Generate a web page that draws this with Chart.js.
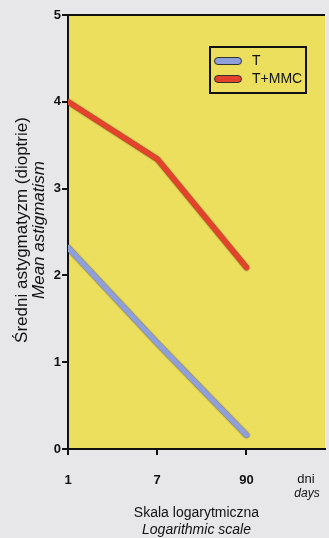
<!DOCTYPE html>
<html><head><meta charset="utf-8">
<script src="https://cdn.jsdelivr.net/npm/chart.js@4/dist/chart.umd.min.js"></script>
<style>html,body{margin:0;padding:0;background:#e7e7ea;}#c{display:block;}</style>
</head><body>
<canvas id="c" width="329" height="538"></canvas>
<script>
const categories = ['1', '7', '90'];
const seriesNames = ['T', 'T+MMC'];
const valuesT = [2.32, 1.22, 0.16];
const valuesTMMC = [4.0, 3.34, 2.09];
const yTicks = [0, 1, 2, 3, 4, 5];

const FONT = '"Liberation Sans", Arial, sans-serif';
const colors = ['#8e9fdc', '#e3432b'];

const decor = {
  id: 'decor',
  beforeDraw(chart) {
    const {ctx, chartArea: a} = chart;
    ctx.save();
    ctx.fillStyle = '#ebdf5d';
    ctx.fillRect(a.left, a.top, a.right - a.left, a.bottom - a.top);
    ctx.restore();
  },
  beforeDatasetDraw(chart) {
    chart.ctx.save();
    chart.ctx.shadowColor = 'rgba(40,20,20,0.85)';
    chart.ctx.shadowBlur = 1.5;
  },
  afterDatasetDraw(chart) { chart.ctx.restore(); },
  afterDraw(chart) {
    const {ctx, chartArea: a} = chart;
    ctx.save();
    ctx.strokeStyle = '#111';
    ctx.lineWidth = 2;
    ctx.beginPath(); ctx.moveTo(a.left, a.top); ctx.lineTo(a.right, a.top); ctx.stroke();
    const bx = 210, by = 47, bw = 96, bh = 46;
    ctx.lineWidth = 2;
    ctx.strokeRect(bx, by, bw, bh);
    seriesNames.forEach((n, i) => {
      const y = 61 + i * 18;
      ctx.fillStyle = colors[i];
      ctx.strokeStyle = '#333';
      ctx.lineWidth = 1;
      ctx.beginPath();
      ctx.moveTo(218, y - 3.5); ctx.lineTo(238, y - 3.5);
      ctx.arc(238, y, 3.5, -Math.PI / 2, Math.PI / 2);
      ctx.lineTo(218, y + 3.5);
      ctx.arc(218, y, 3.5, Math.PI / 2, Math.PI * 1.5);
      ctx.closePath(); ctx.fill(); ctx.stroke();
      ctx.fillStyle = '#111';
      ctx.font = '14px ' + FONT;
      ctx.textBaseline = 'middle'; ctx.textAlign = 'left';
      ctx.fillText(n, 252, y);
    });
    ctx.fillStyle = '#111';
    ctx.textAlign = 'center'; ctx.textBaseline = 'middle';
    ctx.font = '13px ' + FONT;
    ctx.fillText('dni', 306, 479);
    ctx.font = 'italic 12px ' + FONT;
    ctx.fillText('days', 307, 494);
    const cx = (a.left + a.right) / 2;
    ctx.font = '14px ' + FONT;
    ctx.fillText('Skala logarytmiczna', cx, 513);
    ctx.font = 'italic 14px ' + FONT;
    ctx.fillText('Logarithmic scale', cx, 530);
    ctx.translate(0, 230);
    ctx.rotate(-Math.PI / 2);
    ctx.font = '17px ' + FONT;
    ctx.fillText('Średni astygmatyzm (dioptrie)', 0, 22);
    ctx.font = 'italic 17px ' + FONT;
    ctx.fillText('Mean astigmatism', 0, 39);
    ctx.restore();
  }
};

new Chart(document.getElementById('c'), {
  type: 'line',
  data: {
    datasets: [
      { label: seriesNames[0], data: valuesT.map((v, i) => ({x: i, y: v})), borderColor: colors[0] },
      { label: seriesNames[1], data: valuesTMMC.map((v, i) => ({x: i, y: v})), borderColor: colors[1] }
    ]
  },
  options: {
    responsive: false,
    animation: false,
    devicePixelRatio: 1,
    layout: { padding: { top: 15, right: 4, left: 0, bottom: 0 } },
    elements: {
      line: { borderWidth: 5.5, tension: 0, borderCapStyle: 'round', borderJoinStyle: 'round' },
      point: { radius: 0 }
    },
    plugins: { legend: { display: false }, tooltip: { enabled: false } },
    scales: {
      x: {
        type: 'linear', min: 0, max: 2.88,
        afterBuildTicks(s) { s.ticks = categories.map((c, i) => ({value: i})); },
        afterFit(s) { s.height = 89; },
        ticks: { callback: (v) => categories[v] ?? '', color: '#111', font: { size: 13, family: FONT, weight: 'bold' }, padding: 18, maxRotation: 0, autoSkip: false },
        grid: { display: true, drawOnChartArea: false, drawTicks: true, tickLength: 6, color: '#111', lineWidth: 2 },
        border: { display: true, color: '#111', width: 2 }
      },
      y: {
        min: 0, max: 5,
        afterBuildTicks(s) { s.ticks = yTicks.map(v => ({value: v})); },
        afterFit(s) { s.width = 68; },
        ticks: { color: '#111', font: { size: 13, family: FONT, weight: 'bold' }, padding: 1 },
        grid: { display: true, drawOnChartArea: false, drawTicks: true, tickLength: 6, color: '#111', lineWidth: 2 },
        border: { display: true, color: '#111', width: 2 }
      }
    }
  },
  plugins: [decor]
});
</script>
</body></html>
